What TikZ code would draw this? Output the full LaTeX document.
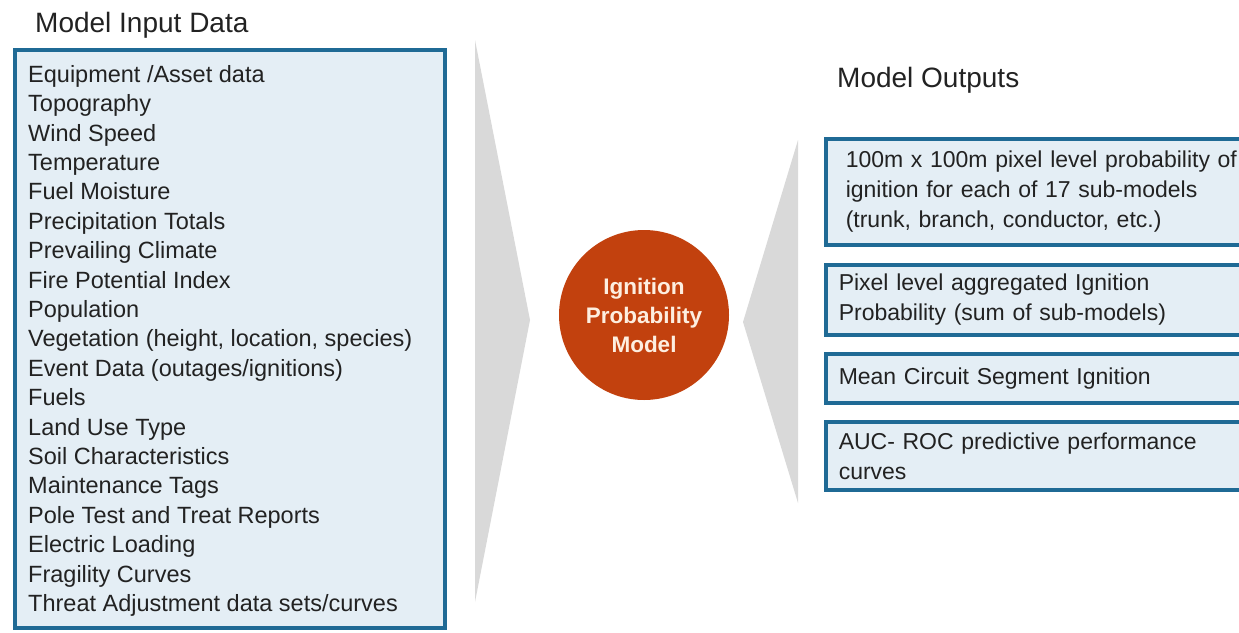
\documentclass[tikz,border=0pt]{standalone}
\usepackage{fontspec}
\setmainfont{Liberation Sans}
\usepackage{tikz}
\definecolor{boxline}{HTML}{1F6A95}
\definecolor{boxfill}{HTML}{E4EEF5}
\definecolor{chevgrey}{HTML}{D9D9D9}
\definecolor{ignite}{HTML}{C2410E}
\definecolor{ignitetxt}{HTML}{FDEEE0}
\definecolor{bodytxt}{HTML}{222222}

\begin{document}
\begin{tikzpicture}[
  x=1pt, y=-1pt,
  every node/.style={text=bodytxt, font=\fontsize{23.5}{30}\selectfont},
  heading/.style={font=\fontsize{28}{34}\selectfont, anchor=base west, inner sep=0pt},
  databox/.style={draw=boxline, line width=3.5pt, fill=boxfill, inner sep=0pt},
  outbox/.style={draw=boxline, line width=3.5pt, fill=boxfill, anchor=west,
               align=left, inner ysep=0pt, font=\fontsize{23}{30}\selectfont},
  listitem/.style={anchor=base west, inner sep=0pt},
  chev/.style={fill=chevgrey},
  model/.style={circle, fill=ignite, minimum size=170pt, inner sep=0pt, align=center,
               text=ignitetxt, font=\fontsize{22.5}{29}\selectfont\bfseries}
]
  \useasboundingbox (0,0) rectangle (1239,632);
  \clip (0,0) rectangle (1239,632);

  % inputs
  \node[heading] (intitle) at (35,32) {Model Input Data};
  \node[databox, anchor=north west, minimum width=430pt, minimum height=578pt] (inbox) at (13,48) {};
  \foreach \entry [count=\i] in {Equipment /Asset data, Topography, Wind Speed, Temperature,
      Fuel Moisture, Precipitation Totals, Prevailing Climate, Fire Potential Index, Population,
      {Vegetation (height, location, species)}, Event Data (outages/ignitions), Fuels,
      Land Use Type, Soil Characteristics, Maintenance Tags, Pole Test and Treat Reports,
      Electric Loading, Fragility Curves, Threat Adjustment data sets/curves}
    \node[listitem] (in\i) at (28,{82.2+(\i-1)*29.4}) {\entry};

  % chevrons
  \fill[chev] (475,40) -- (530,320) -- (475,602) -- cycle;
  \fill[chev] (798,140) -- (743,322) -- (798,503) -- cycle;

  \node[model] (ipm) at (644,315) {Ignition\\Probability\\Model};

  % outputs
  \node[heading] (outtitle) at (837,87) {Model Outputs};
  \node[outbox, text width=400pt, inner xsep=20pt, minimum height=106pt] (out1) at (824,192)
    {100m x 100m pixel level probability of\\ignition for each of 17 sub-models\\(trunk, branch, conductor, etc.)};
  \node[outbox, text width=416pt, inner xsep=13pt, minimum height=70pt] (out2) at (824,300)
    {Pixel level aggregated Ignition\\Probability (sum of sub-models)};
  \node[outbox, text width=416pt, inner xsep=13pt, minimum height=49pt] (out3) at (824,378.5)
    {Mean Circuit Segment Ignition};
  \node[outbox, text width=416pt, inner xsep=13pt, minimum height=68pt] (out4) at (824,456)
    {AUC- ROC predictive performance\\curves};
\end{tikzpicture}
\end{document}
